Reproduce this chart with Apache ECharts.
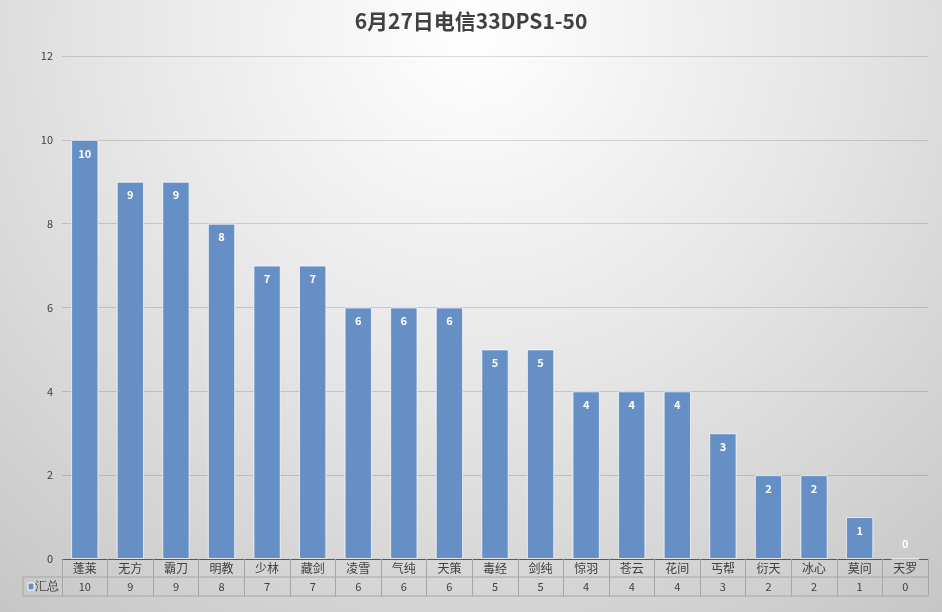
<!DOCTYPE html>
<html><head><meta charset="utf-8">
<script src="https://cdn.jsdelivr.net/npm/echarts@6/dist/echarts.min.js"></script>
<style>html,body{margin:0;padding:0;}#c{width:942px;height:612px;}</style>
</head><body><div id="c"></div>
<script>
const title = '6月27日电信33DPS1-50';
const categories = ['蓬莱','无方','霸刀','明教','少林','藏剑','凌雪','气纯','天策','毒经','剑纯','惊羽','苍云','花间','丐帮','衍天','冰心','莫问','天罗'];
const values = [10,9,9,8,7,7,6,6,6,5,5,4,4,4,3,2,2,1,0];
const seriesName = '汇总';
const yTicks = {min:0, max:12, interval:2};

const G = {left:62, right:14, top:56, bottom:53};
const W = 942, H = 612;
const axisY = H - G.bottom;
const tableLeft = 23, row2Top = axisY + 18, row2Bottom = axisY + 37;
const lineCol = '#a6a6a6';
const font = '"Noto Sans CJK SC", "Noto Sans", sans-serif';

const chart = echarts.init(document.getElementById('c'));
chart.setOption({
  backgroundColor: {type:'radial', x:0.5, y:0.05, r:1.3, colorStops:[
    {offset:0, color:'#ffffff'}, {offset:0.45, color:'#e6e6e6'}, {offset:1, color:'#c2c2c2'}]},
  textStyle:{fontFamily: font},
  title:{text:title, left:'center', top:6, textStyle:{fontSize:21, fontWeight:'bold', color:'#404040', fontFamily:font}},
  grid:{left:G.left, right:G.right, top:G.top, bottom:G.bottom},
  xAxis:{type:'category', data:categories,
    axisLine:{lineStyle:{color:'#595959', width:1}},
    axisTick:{show:true, interval:0, length:37, lineStyle:{color:lineCol}},
    axisLabel:{interval:0, margin:0, color:'#404040',
      formatter:(v, i)=> '{c|' + v + '}\n{v|' + values[i] + '}',
      rich:{c:{fontSize:12, lineHeight:18, color:'#404040', fontFamily:font},
            v:{fontSize:11, lineHeight:19, color:'#404040', fontFamily:font}}}},
  yAxis:{type:'value', min:yTicks.min, max:yTicks.max, interval:yTicks.interval,
    axisLine:{show:false}, axisTick:{show:false},
    axisLabel:{fontSize:11, color:'#404040', margin:9, fontFamily:font},
    splitLine:{lineStyle:{color:'rgba(0,0,0,0.14)', width:1}}},
  series:[{type:'bar', name:seriesName, barWidth:'60%',
    data: values.map(v => v === 0 ? {value:v, label:{position:'top', distance:9}} : v),
    itemStyle:{color:'#6690c5', borderColor:'rgba(255,255,255,0.7)', borderWidth:1},
    label:{show:true, position:'insideTop', distance:8, color:'#ffffff', fontWeight:'bold', fontSize:11, fontFamily:font}}],
  graphic:[
    {type:'line', shape:{x1:tableLeft, y1:row2Top, x2:W-G.right, y2:row2Top}, style:{stroke:lineCol, lineWidth:1}, silent:true},
    {type:'line', shape:{x1:tableLeft, y1:row2Bottom, x2:W-G.right, y2:row2Bottom}, style:{stroke:lineCol, lineWidth:1}, silent:true},
    {type:'line', shape:{x1:tableLeft, y1:row2Top, x2:tableLeft, y2:row2Bottom}, style:{stroke:lineCol, lineWidth:1}, silent:true},
    {type:'rect', shape:{x:28, y:row2Top+6, width:6, height:7}, style:{fill:'#6690c5', stroke:'#ffffff', lineWidth:1}, silent:true},
    {type:'text', x:35, y:row2Top+9.5, style:{text:seriesName, fontSize:12, fill:'#404040', font:'12px ' + font, verticalAlign:'middle'}, silent:true}
  ]
});
</script></body></html>
